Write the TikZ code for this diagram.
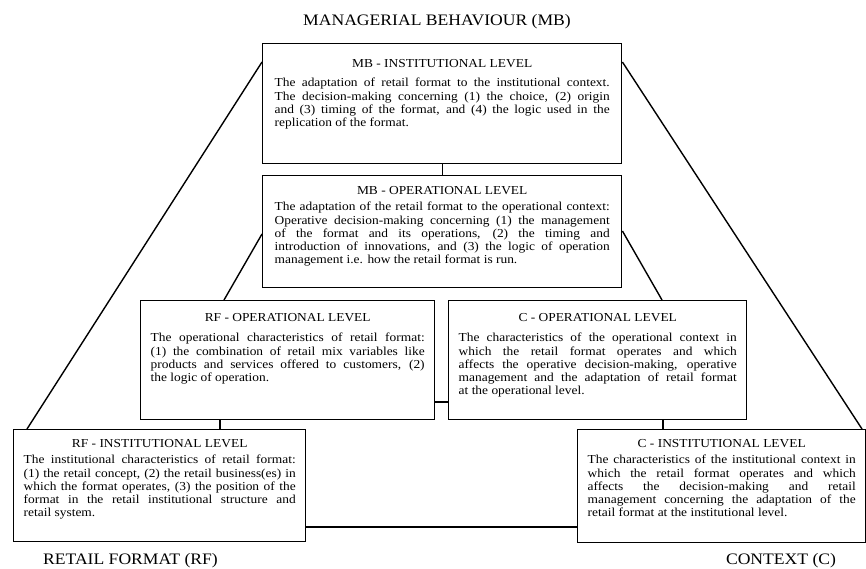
\documentclass[tikz,border=0pt]{standalone}
\usepackage{fontspec}
\setmainfont{Liberation Serif}[FakeStretch=1.1]
\usetikzlibrary{calc}
\hbadness=10000
\hyphenpenalty=10000
\newcommand{\lvltext}[5]{\vbox to #1{\vskip #2\relax{\centering\strut #4\par}\vskip #3\relax
  \leftskip=0pt\rightskip=0pt\parfillskip=0pt plus 1fil\noindent #5\par\vfil}}
\tikzset{
  lvl/.style={draw, line width=1.4pt, rectangle, anchor=north west, inner ysep=0pt,
    align=justify, font=\fontsize{12.2}{13.3}\selectfont},
  conn/.style={line width=1.4pt},
  bigtitle/.style={font=\fontsize{16}{18}\selectfont, inner sep=0pt}
}
\begin{document}
\begin{tikzpicture}[x=1pt,y=-1pt]
\useasboundingbox (0,0) rectangle (866,569);

\node[bigtitle] (tmb) at (437,22) {MANAGERIAL BEHAVIOUR (MB)};
\node[bigtitle, anchor=west] (trf) at (43,561) {RETAIL FORMAT (RF)};
\node[bigtitle] (tc) at (781,561) {CONTEXT (C)};

\node[lvl, inner xsep=12pt, text width=335pt] (mbi) at (262,43) {\lvltext{120pt}{14.7pt}{5.7pt}{MB - INSTITUTIONAL LEVEL}{The adaptation of retail format to the institutional context.\linebreak The decision-making concerning (1) the choice, (2) origin\linebreak and (3) timing of the format, and (4) the logic used in the\linebreak replication of the format.}};

\node[lvl, inner xsep=12pt, text width=335pt] (mbo) at (262,175) {\lvltext{112pt}{9.7pt}{2.7pt}{MB - OPERATIONAL LEVEL}{The adaptation of the retail format to the operational context:\linebreak Operative decision-making concerning (1) the management\linebreak of the format and its operations, (2) the timing and\linebreak introduction of innovations, and (3) the logic of operation\linebreak management i.e. how the retail format is run.}};

\node[lvl, inner xsep=10pt, text width=274pt] (rfo) at (140,300) {\lvltext{119pt}{11.7pt}{6.7pt}{RF - OPERATIONAL LEVEL}{The operational characteristics of retail format:\linebreak (1) the combination of retail mix variables like\linebreak products and services offered to customers, (2)\linebreak the logic of operation.}};

\node[lvl, inner xsep=10pt, text width=278pt] (co) at (448,300) {\lvltext{119pt}{11.7pt}{6.7pt}{C - OPERATIONAL LEVEL}{The characteristics of the operational context in\linebreak which the retail format operates and which\linebreak affects the operative decision-making, operative\linebreak management and the adaptation of retail format\linebreak at the operational level.}};

\node[lvl, inner xsep=10pt, text width=272pt] (rfi) at (13,429) {\lvltext{112pt}{8.7pt}{2.7pt}{RF - INSTITUTIONAL LEVEL}{The institutional characteristics of retail format:\linebreak (1) the retail concept, (2) the retail business(es) in\linebreak which the format operates, (3) the position of the\linebreak format in the retail institutional structure and\linebreak retail system.}};

\node[lvl, inner xsep=10pt, text width=268pt] (ci) at (577,429) {\lvltext{113pt}{8.7pt}{2.7pt}{C - INSTITUTIONAL LEVEL}{The characteristics of the institutional context in\linebreak which the retail format operates and which\linebreak affects the decision-making and retail\linebreak management concerning the adaptation of the\linebreak retail format at the institutional level.}};

\draw[conn] (mbi.south) -- (mbo.north);
\draw[conn] (rfo.east |- 0,402) -- (co.west |- 0,402);
\draw[conn] (rfo.south -| 220,0) -- (rfi.north -| 220,0);
\draw[conn] (co.south -| 663,0) -- (ci.north -| 663,0);
\draw[conn] (rfi.east |- 0,527) -- (ci.west |- 0,527);

\draw[conn] (mbi.west |- 0,62) -- (rfi.north -| 27,0);
\draw[conn] (mbi.east |- 0,62) -- (ci.north -| 862,0);
\draw[conn] (mbo.west |- 0,234) -- (rfo.north -| 224,0);
\draw[conn] (mbo.east |- 0,231) -- (co.north -| 662,0);
\end{tikzpicture}
\end{document}
